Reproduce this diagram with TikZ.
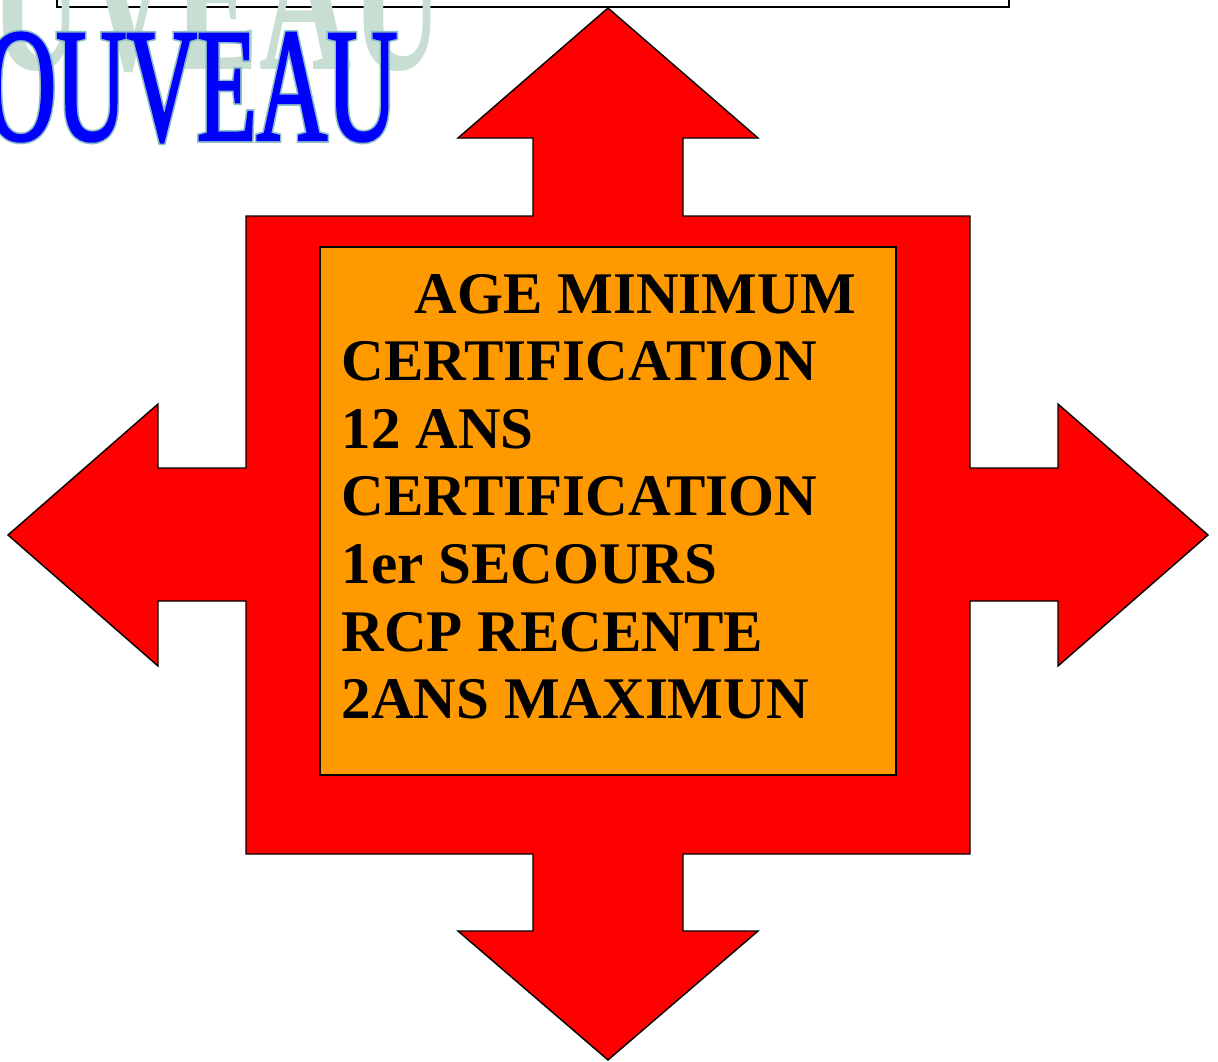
\documentclass[tikz,border=0pt]{standalone}
\usepackage{fontspec}
\setmainfont{Liberation Serif}
\newfontfamily\shadowfont[FakeStretch=0.592]{Liberation Serif Bold}
\newfontfamily\wordfont[FakeStretch=0.601,FakeBold=1.4]{Liberation Serif}
\newfontfamily\edgefont[FakeStretch=0.601,FakeBold=3.4]{Liberation Serif}
\definecolor{crossred}{RGB}{255,0,0}
\definecolor{boxorange}{RGB}{255,153,0}
\definecolor{wordblue}{RGB}{0,0,255}
\definecolor{wordedge}{RGB}{140,190,200}
\definecolor{shadowgrey}{RGB}{200,222,210}
\tikzset{
  wordart/.style={anchor=base west, inner sep=0pt},
  textline/.style={anchor=base west, inner sep=0pt,
    font=\fontsize{33.6}{38}\selectfont\bfseries}
}
\begin{document}
\begin{tikzpicture}[x=0.02cm,y=-0.02cm,line width=0.8pt]
  \useasboundingbox (0,0) rectangle (1218,1062);
  \clip (0,0) rectangle (1218,1062);

  % frame cut off at the top
  \draw[fill=white] (57,-20) rectangle (1009,7);

  % title, shadow then outline then fill
  \node[wordart, text=shadowgrey, font=\shadowfont\fontsize{122.5}{130}\selectfont] (shadow) at (-10,69) {UVEAU};
  \node[wordart, text=wordedge, font=\edgefont\fontsize{92.4}{100}\selectfont] (titleedge) at (-15,140) {OUVEAU};
  \node[wordart, text=wordblue, font=\wordfont\fontsize{92.4}{100}\selectfont] (title) at (-15,140) {OUVEAU};

  % cross of four arrows
  \draw[fill=crossred] (608,8) -- (758,138) -- (683,138) -- (683,216) -- (970,216)
    -- (970,468) -- (1058,468) -- (1058,404) -- (1208,535) -- (1058,666) -- (1058,601) -- (970,601)
    -- (970,854) -- (683,854) -- (683,931) -- (758,931) -- (608,1060) -- (458,931) -- (533,931) -- (533,854)
    -- (246,854) -- (246,601) -- (158,601) -- (158,666) -- (8,535) -- (158,404) -- (158,468) -- (246,468)
    -- (246,216) -- (533,216) -- (533,138) -- (458,138) -- cycle;

  \draw[fill=boxorange] (320,247) rectangle (896,775);
  \foreach \xpos/\words [count=\i from 0] in {414/AGE MINIMUM, 341/CERTIFICATION, 341/12 ANS,
      341/CERTIFICATION, 341/1er SECOURS, 341/RCP RECENTE, 341/2ANS MAXIMUN}
    \node[textline] (line\i) at (\xpos,313+67.6*\i) {\words};
\end{tikzpicture}
\end{document}
